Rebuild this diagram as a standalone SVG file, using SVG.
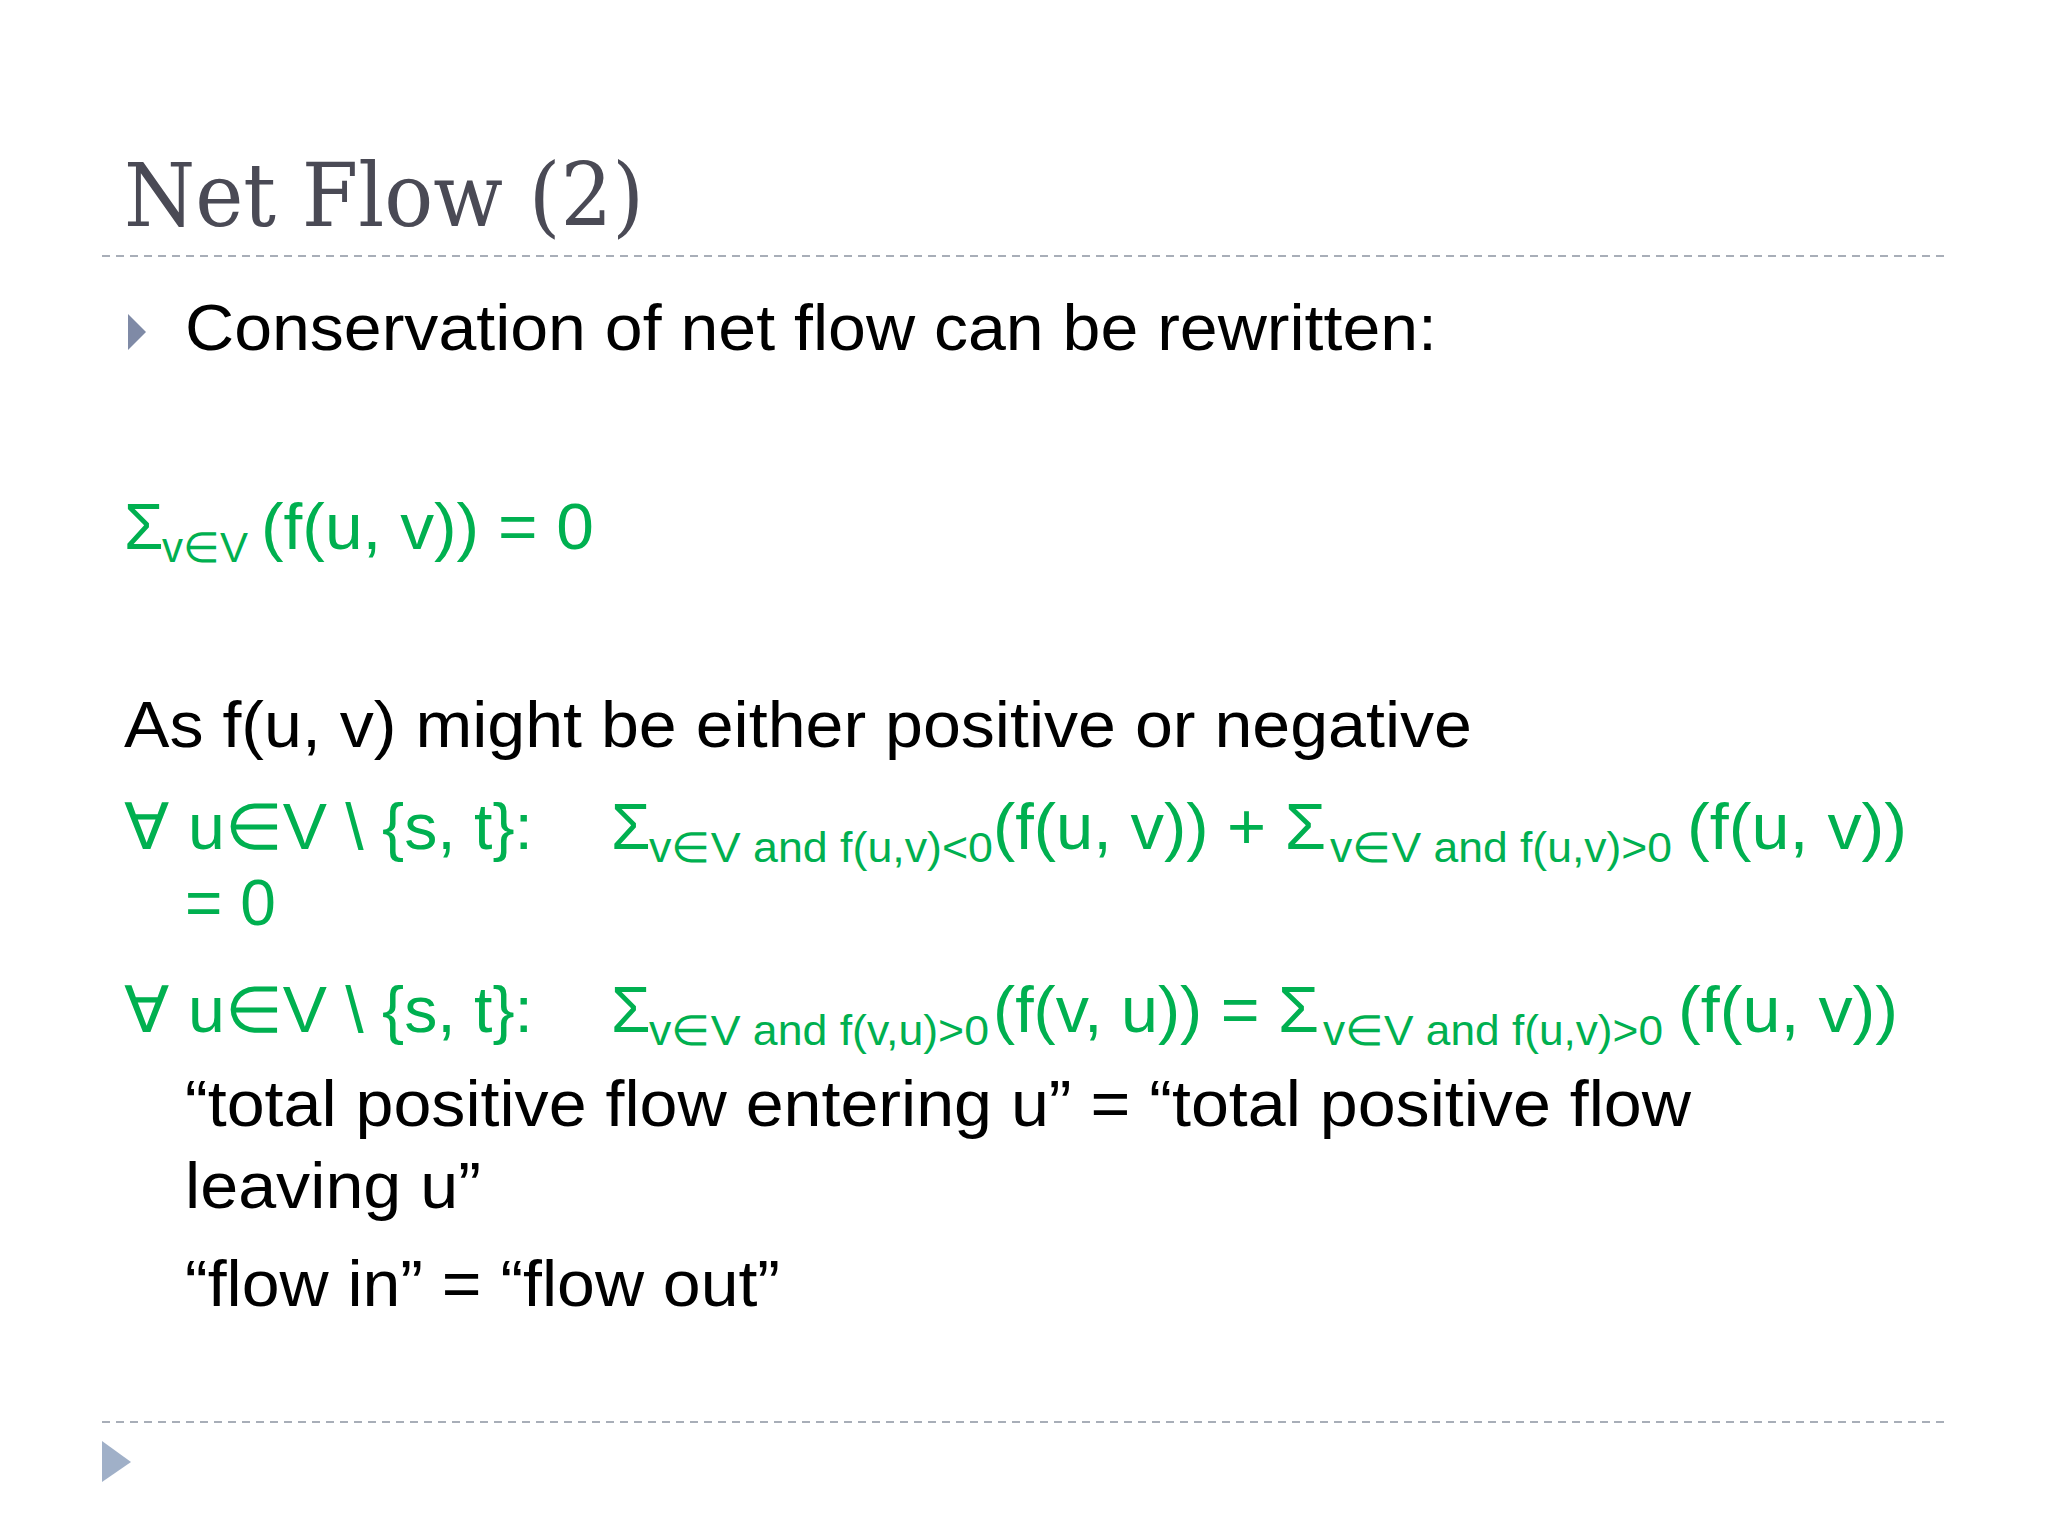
<svg xmlns="http://www.w3.org/2000/svg" width="2048" height="1536" viewBox="0 0 2048 1536">
<style>
.b{font-family:"Liberation Sans",Arial,sans-serif;font-size:64px;fill:#000}
.g{font-family:"Liberation Sans",Arial,sans-serif;font-size:64px;fill:#00b050}
.s{font-family:"Liberation Sans",Arial,sans-serif;font-size:42px;fill:#00b050}
.d{stroke:#a8aeb8;stroke-width:2;stroke-dasharray:8 6}
</style>
<rect width="2048" height="1536" fill="#fff"/>
<g id="title"><text x="124" y="226" font-family="'DejaVu Serif','Liberation Serif',serif" font-size="88" fill="#4a4a55" textLength="520" lengthAdjust="spacingAndGlyphs">Net Flow (2)</text></g>
<line class="d" x1="102" y1="256" x2="1946" y2="256"/>
<line class="d" x1="102" y1="1422" x2="1946" y2="1422"/>
<polygon points="128,314 146,332 128,350" fill="#7f8aa6"/>
<polygon points="102,1441 131,1462 102,1482" fill="#a0b0c8"/>
<g id="body">
<text class="b" x="185" y="350" textLength="1252" lengthAdjust="spacingAndGlyphs">Conservation of net flow can be rewritten:</text>
<text class="g" x="124" y="549">Σ</text>
<text class="s" x="162" y="562" textLength="86" lengthAdjust="spacingAndGlyphs">v∈V</text>
<text class="g" x="261" y="549" textLength="333" lengthAdjust="spacingAndGlyphs">(f(u, v)) = 0</text>
<text class="b" x="124" y="747" textLength="1348" lengthAdjust="spacingAndGlyphs">As f(u, v) might be either positive or negative</text>
<text class="g" x="124" y="849" textLength="409" lengthAdjust="spacingAndGlyphs">∀ u∈V \ {s, t}:</text>
<text class="g" x="611" y="849">Σ</text>
<text class="s" x="649" y="862" textLength="344" lengthAdjust="spacingAndGlyphs">v∈V and f(u,v)&lt;0</text>
<text class="g" x="993" y="849" textLength="333" lengthAdjust="spacingAndGlyphs">(f(u, v)) + Σ</text>
<text class="s" x="1330" y="862" textLength="342" lengthAdjust="spacingAndGlyphs">v∈V and f(u,v)&gt;0</text>
<text class="g" x="1687" y="849" textLength="220" lengthAdjust="spacingAndGlyphs">(f(u, v))</text>
<text class="g" x="185" y="925">= 0</text>
<text class="g" x="124" y="1032" textLength="409" lengthAdjust="spacingAndGlyphs">∀ u∈V \ {s, t}:</text>
<text class="g" x="611" y="1032">Σ</text>
<text class="s" x="649" y="1045" textLength="340" lengthAdjust="spacingAndGlyphs">v∈V and f(v,u)&gt;0</text>
<text class="g" x="993" y="1032" textLength="326" lengthAdjust="spacingAndGlyphs">(f(v, u)) = Σ</text>
<text class="s" x="1323" y="1045" textLength="340" lengthAdjust="spacingAndGlyphs">v∈V and f(u,v)&gt;0</text>
<text class="g" x="1678" y="1032" textLength="220" lengthAdjust="spacingAndGlyphs">(f(u, v))</text>
<text class="b" x="185" y="1126" textLength="1506" lengthAdjust="spacingAndGlyphs">“total positive flow entering u” = “total positive flow</text>
<text class="b" x="185" y="1208" textLength="296" lengthAdjust="spacingAndGlyphs">leaving u”</text>
<text class="b" x="185" y="1306" textLength="595" lengthAdjust="spacingAndGlyphs">“flow in” = “flow out”</text>
</g>
</svg>
